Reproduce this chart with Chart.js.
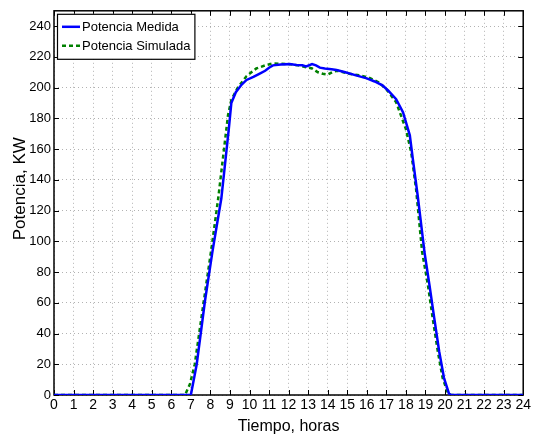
<!DOCTYPE html>
<html>
<head>
<meta charset="utf-8">
<script src="https://cdn.jsdelivr.net/npm/chart.js@4/dist/chart.umd.min.js"></script>
<style>
  html, body { margin: 0; padding: 0; background: #fff; }
  #wrap { width: 533px; height: 442px; }
</style>
</head>
<body>
<div id="wrap"><canvas id="potencia" width="533" height="442"></canvas></div>
<script>
// datos
var horasMedida = [0, 7.0, 7.3, 7.72, 8.1, 8.56, 8.94, 9.07, 9.3, 9.6, 9.85, 10.2, 10.5, 10.8, 11.0, 11.2, 11.6, 12.05, 12.4, 12.7, 12.9, 13.2, 13.4, 13.6, 13.85, 14.2, 14.45, 14.9, 15.45, 16.0, 16.4, 16.8, 17.1, 17.5, 17.85, 18.2, 18.35, 18.6, 18.95, 19.2, 19.45, 19.7, 19.95, 20.2, 20.3, 24];
var potenciaMedida = [0, 0, 20, 61, 93, 128, 173, 190, 197, 202, 205, 207, 209, 211, 213, 214.5, 215, 215.3, 214.8, 214.5, 213.8, 215.4, 214.5, 213, 212.5, 212, 211.5, 210, 208, 206, 204, 201.5, 198, 192.5, 184, 169, 154, 130, 93, 72, 50, 28.5, 11, 1, 0, 0];

var horasSimulada = [0, 6.7, 6.95, 7.2, 7.65, 8.05, 8.4, 8.9, 9.07, 9.4, 9.85, 10.35, 10.85, 11.2, 11.6, 12.05, 12.5, 12.9, 13.2, 13.5, 13.75, 14.0, 14.3, 14.5, 14.8, 15.1, 15.6, 16.1, 16.6, 17.0, 17.5, 18.0, 18.27, 18.52, 18.83, 19.12, 19.37, 19.63, 19.88, 20.14, 20.3, 24];
var potenciaSimulada = [0, 0, 7, 20, 60, 95, 128, 182, 192, 200, 207.5, 212.5, 214.7, 215.8, 215.5, 215.3, 214.5, 213.3, 212.5, 210, 209, 208.5, 210.5, 211, 210, 209, 208, 206.5, 203.5, 199, 190.5, 173, 158, 134, 93, 72, 50, 28.5, 11, 1.5, 0, 0];

var etiquetas = ["Potencia Medida", "Potencia Simulada"];
var ticksY = [0, 20, 40, 60, 80, 100, 120, 140, 160, 180, 200, 220, 240];

function puntos(xs, ys) {
  return xs.map(function(x, i) { return { x: x, y: ys[i] }; });
}

var FUENTE = "'Liberation Sans', Arial, sans-serif";

// caja estilo matlab con marcas hacia dentro
var cajaEjes = {
  id: 'cajaEjes',
  beforeDatasetsDraw: function(chart) {
    var c = chart.ctx, a = chart.chartArea;
    var sx = chart.scales.x, sy = chart.scales.y;
    c.save();
    c.strokeStyle = '#000';
    c.lineWidth = 1;
    c.beginPath();
    sx.ticks.forEach(function(t) {
      var px = Math.round(sx.getPixelForValue(t.value)) + 0.5;
      c.moveTo(px, a.bottom); c.lineTo(px, a.bottom - 5);
      c.moveTo(px, a.top); c.lineTo(px, a.top + 5);
    });
    sy.ticks.forEach(function(t) {
      var py = Math.round(sy.getPixelForValue(t.value)) + 0.5;
      c.moveTo(a.left, py); c.lineTo(a.left + 5, py);
      c.moveTo(a.right, py); c.lineTo(a.right - 5, py);
    });
    c.stroke();
    c.lineWidth = 1.5;
    c.strokeRect(a.left, a.top, a.right - a.left, a.bottom - a.top);
    c.restore();
  }
};

// leyenda dentro del area
var leyenda = {
  id: 'leyenda',
  afterDatasetsDraw: function(chart) {
    var c = chart.ctx, a = chart.chartArea;
    c.save();
    c.font = '13px ' + FUENTE;
    var w = 0;
    etiquetas.forEach(function(t) { w = Math.max(w, c.measureText(t).width); });
    var x0 = a.left + 3, y0 = a.top + 3, bw = w + 29, bh = 45;
    c.fillStyle = '#fff';
    c.fillRect(x0, y0, bw, bh);
    c.strokeStyle = '#000';
    c.lineWidth = 1.2;
    c.strokeRect(x0 + 0.5, y0 + 0.5, bw, bh);
    chart.data.datasets.forEach(function(ds, i) {
      var y = y0 + 13 + i * 19;
      c.strokeStyle = ds.borderColor;
      c.lineWidth = ds.borderWidth;
      c.setLineDash(ds.borderDash || []);
      c.beginPath();
      c.moveTo(x0 + 5, y); c.lineTo(x0 + 23, y);
      c.stroke();
      c.setLineDash([]);
      c.fillStyle = '#000';
      c.textBaseline = 'middle';
      c.fillText(ds.label, x0 + 25, y + 1);
    });
    c.restore();
  }
};

window.onload = function() {
  var ctx = document.getElementById('potencia');
  var chart = new Chart(ctx, {
    type: 'line',
    data: {
      datasets: [{
        label: etiquetas[0],
        data: puntos(horasMedida, potenciaMedida),
        borderColor: '#0000ff',
        borderWidth: 2.5,
        pointRadius: 0,
        tension: 0,
        fill: false
      }, {
        label: etiquetas[1],
        data: puntos(horasSimulada, potenciaSimulada),
        borderColor: '#008000',
        borderWidth: 2.5,
        borderDash: [4, 3],
        pointRadius: 0,
        tension: 0,
        fill: false
      }]
    },
    options: {
      responsive: false,
      animation: false,
      layout: { padding: { top: 8, right: 9, left: 0, bottom: 0 } },
      plugins: { legend: { display: false }, tooltip: { enabled: false } },
      scales: {
        x: {
          type: 'linear',
          min: 0, max: 24,
          ticks: { stepSize: 1, color: '#000', font: { family: FUENTE, size: 14 }, padding: 2, maxRotation: 0, autoSkip: false },
          grid: { color: 'rgba(0,0,0,0.3)', tickLength: 0, drawTicks: false },
          border: { display: false, dash: [1, 3] },
          title: { display: true, text: 'Tiempo, horas', color: '#000', font: { family: FUENTE, size: 16 }, padding: { top: 0, bottom: 6 } },
          afterFit: function(s) { s.height = 47; }
        },
        y: {
          min: 0, max: 250,
          ticks: { color: '#000', font: { family: FUENTE, size: 13 }, padding: 3 },
          grid: { color: 'rgba(0,0,0,0.3)', tickLength: 0, drawTicks: false },
          border: { display: false, dash: [1, 3] },
          title: { display: true, text: '      Potencia, KW', color: '#000', font: { family: FUENTE, size: 17 }, padding: { top: 10, bottom: 0 } },
          afterBuildTicks: function(s) { s.ticks = ticksY.map(function(v) { return { value: v }; }); },
          afterFit: function(s) { s.width = 54; }
        }
      }
    },
    plugins: [cajaEjes, leyenda]
  });
};
</script>
</body>
</html>
